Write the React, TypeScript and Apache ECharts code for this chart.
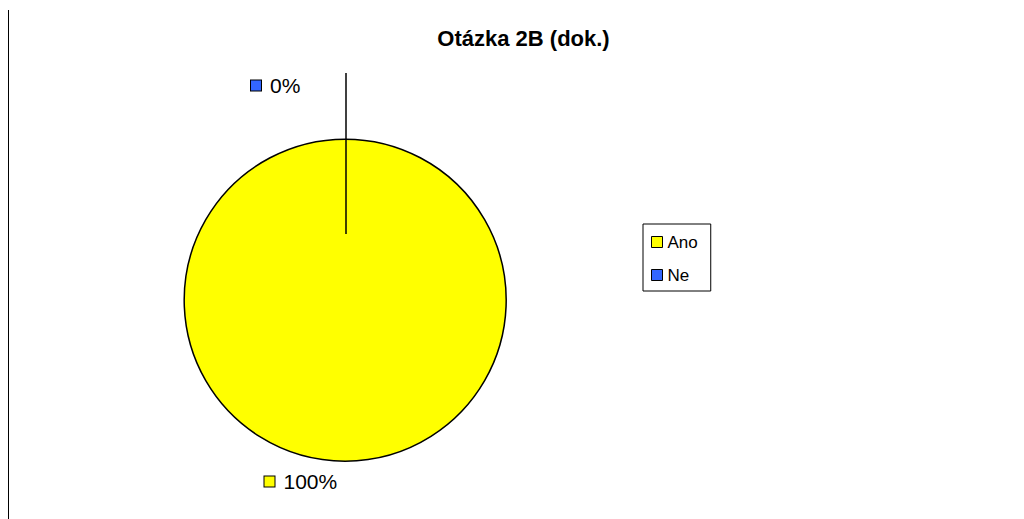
import React, { useEffect, useRef } from "react";
import * as echarts from "echarts";

const titleText = "Otázka 2B (dok.)";
const categories = ["Ano", "Ne"];
const values = [100, 0];
const colors = ["#FFFF00", "#3366FF"];
const labelTexts = ["100%", "0%"];

const FONT = "'Liberation Sans', Arial, sans-serif";

export default function App() {
  const ref = useRef<HTMLDivElement>(null);
  useEffect(() => {
    if (!ref.current) return;
    const chart = echarts.init(ref.current, null, { renderer: "svg" });
    const labelPos = [
      { x: 264.5, y: 481.5 },
      { x: 251, y: 85.5 },
    ];
    chart.setOption({
      animation: false,
      backgroundColor: "#fff",
      textStyle: { fontFamily: FONT },
      graphic: [
        {
          type: "line",
          shape: { x1: 8.5, y1: 10, x2: 8.5, y2: 519 },
          style: { stroke: "#000", lineWidth: 1 },
          silent: true,
        },
        {
          type: "line",
          shape: { x1: 346, y1: 234, x2: 346, y2: 73 },
          style: { stroke: "#000", lineWidth: 1.5 },
          silent: true,
          z: 100,
        },
        {
          type: "text",
          x: 523.5,
          y: 38.5,
          style: {
            text: titleText,
            align: "center",
            verticalAlign: "middle",
            fontFamily: FONT,
            fontWeight: "bold",
            fontSize: 22,
            fill: "#000",
          },
        },
      ],
      legend: {
        orient: "vertical",
        left: 643,
        top: 224,
        data: categories,
        icon: "rect",
        itemWidth: 11,
        itemHeight: 11,
        itemGap: 15,
        borderColor: "#000",
        borderWidth: 1,
        padding: [9, 13, 7, 8],
        itemStyle: { borderColor: "#000", borderWidth: 1 },
        textStyle: { fontFamily: FONT, fontSize: 17, lineHeight: 18, color: "#000" },
        selectedMode: false,
      },
      series: [
        {
          type: "pie",
          center: [345.2, 300.2],
          radius: 161,
          startAngle: 90,
          clockwise: true,
          avoidLabelOverlap: false,
          data: categories.map((name, i) => ({
            name,
            value: values[i],
            itemStyle: {
              color: colors[i],
              borderColor: "#000",
              borderWidth: values[i] > 0 ? 1.5 : 0,
            },
            label: {
              formatter: "{sq|}{t|" + labelTexts[i] + "}",
              rich: {
                sq: {
                  width: 10,
                  height: 10,
                  backgroundColor: colors[i],
                  borderColor: "#000",
                  borderWidth: 1,
                },
                t: {
                  fontFamily: FONT,
                  fontSize: 21,
                  color: "#000",
                  padding: [0, 0, 0, 9],
                },
              },
            },
          })),
          label: { show: true, position: "outside" },
          labelLine: { show: false },
          labelLayout: (params: any) => ({
            x: labelPos[params.dataIndex].x,
            y: labelPos[params.dataIndex].y,
            align: "left",
            verticalAlign: "middle",
          }),
          emphasis: { disabled: true },
        },
      ],
    });
    return () => chart.dispose();
  }, []);
  return (
    <div
      ref={ref}
      style={{ position: "absolute", left: 0, top: 0, width: 1024, height: 519 }}
    />
  );
}
